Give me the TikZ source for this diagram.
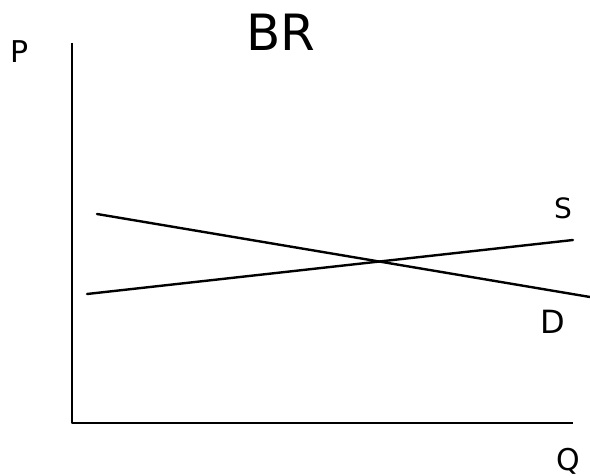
\documentclass[tikz,border=0pt]{standalone}
\usepackage{fontspec}
\setmainfont{DejaVu Sans}
\begin{document}
\begin{tikzpicture}[x=1pt,y=-1pt,
  curve/.style={line width=2.4pt,line cap=round},
  axis/.style={line width=2.6pt,line join=round},
  lbl/.style={inner sep=0pt,font=\fontsize{30}{30}\selectfont}]
\useasboundingbox (0,0) rectangle (590,476);
% axes
\coordinate (ytop) at (72,43);
\coordinate (orig) at (72,423);
\coordinate (xend) at (573,423);
\draw[axis] (ytop) -- (orig) -- (xend);
% demand and supply
\coordinate (d1) at (97,214);
\coordinate (d2) at (590,297);
\coordinate (s1) at (87,294);
\coordinate (s2) at (573,240);
\draw[curve] (d1) -- (d2);
\draw[curve] (s1) -- (s2);
% labels
\node[lbl,font=\fontsize{50}{50}\selectfont] (title) at (281,32) {BR};
\node[lbl] (p) at (20,52) {P};
\node[lbl] (q) at (568,461) {Q};
\node[lbl,font=\fontsize{28}{28}\selectfont] (s) at (563,208) {S};
\node[lbl,font=\fontsize{32}{32}\selectfont] (d) at (553,322) {D};
\end{tikzpicture}
\end{document}
